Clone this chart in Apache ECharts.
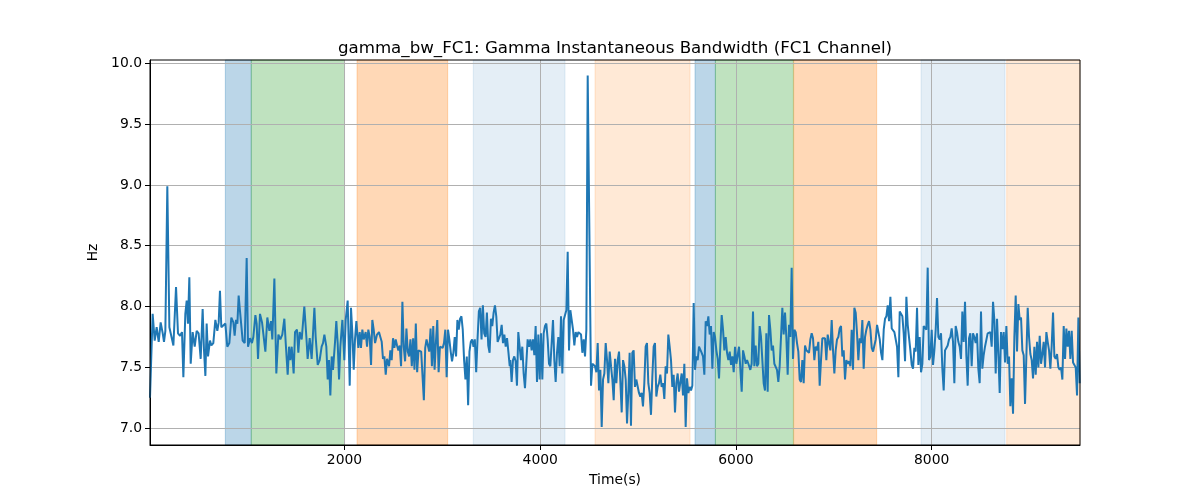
<!DOCTYPE html>
<html>
<head>
<meta charset="utf-8">
<script src="https://cdn.jsdelivr.net/npm/echarts@6/dist/echarts.min.js"></script>
<style>html,body{margin:0;padding:0;background:#fff}#c{width:1200px;height:500px}</style>
</head>
<body>
<div id="c"></div>
<script>
// ---- data ----
const titleText = 'gamma_bw_FC1: Gamma Instantaneous Bandwidth (FC1 Channel)';
const xTicks = [2000, 4000, 6000, 8000];
const yTicks = [7.0, 7.5, 8.0, 8.5, 9.0, 9.5, 10.0];
const xRange = [12, 9516];
const yRange = [6.862, 10.027];

const seg1Times = [12,39,60,80,101,121,142,155,169,189,210,230,251,278,298,319,339,353,373,387,400,414,428,448,469,489,509,530,550,564,578,591,605,625,639,659,680,700,714,727,741,761,782,802,823,843,864,877,891,905,918,932,945,959,980,1000,1014,1034,1054,1068,1089,1102,1116,1136,1157,1170,1191,1211,1232];
const seg1Values = [7.25,7.94,7.72,7.83,7.71,7.87,7.78,7.71,7.80,8.99,7.83,7.82,7.68,8.16,7.78,7.76,7.79,7.42,7.94,8.05,7.86,8.24,7.53,7.79,7.67,7.80,7.78,7.57,7.98,7.64,7.43,7.86,7.59,7.72,7.68,7.70,7.89,7.80,7.87,8.13,7.83,7.82,7.86,7.67,7.70,7.91,7.87,7.76,7.89,7.86,8.09,7.96,7.97,7.72,7.70,8.40,7.67,7.74,7.70,7.75,7.93,7.86,7.57,7.94,7.87,7.86,7.63,7.91,7.80];

const seg2Times = [1249,1262,1283,1303,1324,1344,1364,1385,1399,1419,1433,1446,1460,1480,1494,1514,1528,1542,1562,1589,1610,1623,1644,1664,1692,1705,1726,1746,1766,1780,1794,1814,1828,1841,1855,1869,1882,1903,1916,1930,1944,1957,1978,1998,2012,2032,2053,2066,2080,2094,2107,2121,2141,2155,2168,2182,2196,2216,2230,2243,2257,2271,2284,2298,2312,2332,2352,2366,2380,2393,2407,2421,2434,2455];
const seg2Values = [7.88,7.73,8.23,7.45,7.77,7.73,7.77,7.90,7.70,7.44,7.67,7.56,7.67,7.45,7.79,7.81,7.62,7.79,7.73,8.00,7.75,7.57,7.74,7.57,7.99,7.75,7.52,7.56,7.67,7.70,7.77,7.67,7.40,7.56,7.27,7.59,7.48,7.71,7.88,7.70,7.40,7.67,7.89,7.56,7.89,8.05,7.35,7.99,7.78,7.48,7.73,7.88,7.66,7.79,7.66,7.81,7.73,7.79,7.67,7.81,7.75,7.52,7.89,7.81,7.70,7.77,7.79,7.75,7.71,7.57,7.59,7.44,7.57,7.51];

// evenly sampled stretches: [start time, end time] and values
const seg3Span = [2468, 3688];
const seg3Values = [7.64,7.56,7.74,7.66,7.73,7.68,7.64,7.68,7.51,8.04,7.67,7.55,7.82,7.63,7.59,7.73,7.51,7.74,7.48,7.86,7.46,7.64,7.65,7.63,7.64,7.23,7.66,7.73,7.73,7.63,7.82,7.51,7.84,7.48,7.71,7.89,7.46,7.67,7.68,7.66,7.70,7.81,7.42,7.81,7.73,7.63,7.55,7.62,7.75,7.59,7.89,7.81,7.90,7.92,7.81,7.56,7.40,7.59,7.19,7.63,7.71,7.73,7.67,7.73,7.46,7.73,7.96,7.99,7.73,8.01,7.78,7.75,7.95,7.68,7.62,7.90,7.84,7.95,8.01,7.92,7.71,7.70,7.77,7.85,7.70,7.77,7.67,7.74,7.63,7.51];
const seg4aSpan = [3694, 4485];
const seg4aValues = [7.56,7.38,7.56,7.59,7.55,7.35,7.79,7.67,7.56,7.67,7.45,7.33,7.53,7.73,7.67,7.73,7.64,7.73,7.60,7.84,7.38,7.77,7.40,7.78,7.40,7.78,7.84,7.86,7.73,7.53,7.51,7.70,7.89,7.56,7.38,7.62,7.75,7.51,7.92,7.45,7.89,7.89,7.97,8.45,7.64,7.97,7.89,7.81,7.68,7.79,7.75,7.79,7.78,7.77,7.62,7.73,7.59,7.81,9.90];
const seg4bSpan = [4519, 4887];
const seg4bValues = [7.35,7.53,7.52,7.51,7.46,7.70,7.31,7.48,7.01,7.40,7.45,7.70,7.56,7.37,7.63,7.51,7.40,7.23,7.57,7.37,7.56,7.63,7.63,7.13,7.56,7.51,7.40,7.04];
const seg5Span = [4900, 6127];
const seg5Values = [7.29,7.62,7.02,7.62,7.64,7.34,7.40,7.41,7.29,7.26,7.29,7.18,7.37,7.67,7.70,7.37,7.29,7.11,7.42,7.67,7.70,7.26,7.34,7.37,7.44,7.34,7.37,7.24,7.51,7.45,7.77,7.67,7.56,7.34,7.44,7.13,7.37,7.45,7.30,7.29,7.45,7.27,7.53,7.01,7.41,7.29,7.34,7.31,7.35,8.03,7.48,7.59,7.56,7.67,7.68,7.62,7.59,7.44,7.88,7.84,7.92,7.77,7.84,7.49,7.79,7.75,7.64,7.57,7.41,7.68,7.93,7.81,7.64,7.75,7.62,7.56,7.63,7.52,7.59,7.46,7.67,7.53,7.60,7.67,7.66,7.30,7.64,7.59,7.53,7.56,7.53];
const seg6Span = [6147, 7360];
const seg6Values = [7.48,7.53,7.96,7.51,7.68,7.51,7.53,7.84,7.75,7.56,7.37,7.31,7.78,7.30,7.93,7.81,7.64,7.68,7.53,7.52,7.48,7.38,7.51,7.75,7.99,7.77,7.95,7.75,7.44,7.85,7.75,8.32,7.57,7.81,7.79,7.70,7.63,7.40,7.38,7.56,7.37,7.68,7.64,7.63,7.62,7.73,7.78,7.74,7.56,7.67,7.64,7.71,7.35,7.56,7.74,7.75,7.74,7.56,7.77,7.70,7.64,7.89,7.64,7.45,7.64,7.73,7.75,7.82,7.84,7.59,7.64,7.40,7.56,7.53,7.55,7.51,7.81,7.48,7.99,7.95,7.78,7.56,7.74,7.70,7.89,7.49,7.75,7.81,7.85,7.88];
const seg7Span = [7374, 8586];
const seg7Values = [7.81,7.66,7.63,7.64,7.73,7.85,7.84,7.73,7.62,7.56,7.81,7.90,7.92,8.01,7.88,8.08,7.82,7.81,7.79,7.78,7.67,7.42,7.96,7.97,7.92,7.78,7.55,8.08,7.85,7.84,7.64,7.52,7.49,7.66,7.63,7.99,7.52,7.75,7.46,7.53,7.84,7.85,7.81,8.32,7.56,7.59,7.81,7.52,7.64,7.81,8.07,7.75,7.73,7.78,7.49,7.31,7.64,7.66,7.68,7.73,7.75,7.82,7.71,7.37,7.84,7.79,7.71,7.67,7.57,7.96,7.71,8.04,7.60,7.35,7.74,7.78,7.51,7.78,7.75,7.70,7.78,7.49,7.37,7.96,7.49,7.60,7.67,7.68,7.78,7.79];
const seg8Span = [8600, 9513];
const seg8Values = [7.79,7.67,8.04,7.89,7.45,7.90,7.61,7.29,7.79,7.65,7.79,7.54,7.84,7.53,7.59,7.18,7.41,7.12,7.75,8.09,7.63,8.02,7.89,7.91,7.64,7.60,7.20,7.59,7.99,7.75,7.61,7.56,7.41,7.67,7.44,7.71,7.50,7.76,7.53,7.61,7.71,7.50,7.79,7.71,7.64,7.49,7.68,7.95,7.59,7.57,7.61,7.50,7.48,7.50,7.40,7.84,7.57,7.82,7.67,7.80,7.57,7.80,7.54,7.54,7.50,7.27,7.91,7.37];

// shaded intervals
const spanStarts = [782, 1047, 2128, 3316, 4560, 5582, 5790, 6590, 7892, 8767];
const spanEnds   = [1047, 2000, 3054, 4253, 5531, 5790, 6587, 7438, 8750, 9516];
const spanKinds  = ['blue','green','orange','lightblue','lightorange','blue','green','orange','lightblue','lightorange'];

// ---- build ----
const kindColor = {
  blue: 'rgba(31,119,180,0.3)',
  green: 'rgba(44,160,44,0.3)',
  orange: 'rgba(255,127,14,0.3)',
  lightblue: 'rgba(31,119,180,0.12)',
  lightorange: 'rgba(255,127,14,0.17)'
};
const data = [];
function addTimed(times, vals) { for (let i = 0; i < vals.length; i++) data.push([times[i], vals[i]]); }
function addEven(span, vals) {
  const n = vals.length;
  for (let i = 0; i < n; i++) data.push([span[0] + (span[1] - span[0]) * i / (n - 1), vals[i]]);
}
addTimed(seg1Times, seg1Values);
addTimed(seg2Times, seg2Values);
addEven(seg3Span, seg3Values);
addEven(seg4aSpan, seg4aValues);
addEven(seg4bSpan, seg4bValues);
addEven(seg5Span, seg5Values);
addEven(seg6Span, seg6Values);
addEven(seg7Span, seg7Values);
addEven(seg8Span, seg8Values);

const areas = spanStarts.map((s, i) => {
  const c = kindColor[spanKinds[i]];
  return [{ xAxis: s, itemStyle: { color: c, borderColor: c, borderWidth: 1 } }, { xAxis: spanEnds[i] }];
});

const FONT = 'DejaVu Sans';
const chart = echarts.init(document.getElementById('c'), null, { renderer: 'canvas' });
chart.setOption({
  animation: false,
  backgroundColor: '#fff',
  title: {
    text: titleText, left: 610, top: 35, textAlign: 'center',
    textStyle: { fontFamily: FONT, fontSize: 16.67, fontWeight: 'normal', color: '#000' }
  },
  grid: { left: 150, right: 120, top: 60, bottom: 55, show: true, borderColor: '#000', borderWidth: 1, backgroundColor: 'transparent', z: 5 },
  xAxis: {
    type: 'value', min: xRange[0], max: xRange[1], z: 2,
    name: 'Time(s)', nameLocation: 'middle', nameGap: 28,
    nameTextStyle: { fontFamily: FONT, fontSize: 13.9, color: '#000' },
    axisLine: { show: true, onZero: false, lineStyle: { color: '#000', width: 1 } },
    axisTick: { show: true, length: 5, customValues: xTicks, lineStyle: { color: '#000' } },
    axisLabel: { customValues: xTicks, margin: 8, fontFamily: FONT, fontSize: 13.9, color: '#000', formatter: v => String(v) },
    splitLine: { show: true, lineStyle: { color: '#b0b0b0', width: 1 } }
  },
  yAxis: {
    type: 'value', min: yRange[0], max: yRange[1], z: 2,
    name: 'Hz', nameLocation: 'middle', nameGap: 44, nameRotate: 90,
    nameTextStyle: { fontFamily: FONT, fontSize: 13.9, color: '#000' },
    axisLine: { show: true, onZero: false, lineStyle: { color: '#000', width: 1 } },
    axisTick: { show: true, length: 5, customValues: yTicks, lineStyle: { color: '#000' } },
    axisLabel: { customValues: yTicks, margin: 8, fontFamily: FONT, fontSize: 13.9, color: '#000', formatter: v => v.toFixed(1) },
    splitLine: { show: true, lineStyle: { color: '#b0b0b0', width: 1 } }
  },
  series: [{
    type: 'line', data: data, z: 3, showSymbol: false, symbol: 'none',
    lineStyle: { color: '#1f77b4', width: 2 }, itemStyle: { color: '#1f77b4' },
    silent: true,
    markArea: { silent: true, z: 1, label: { show: false }, data: areas }
  }]
});
</script>
</body>
</html>
